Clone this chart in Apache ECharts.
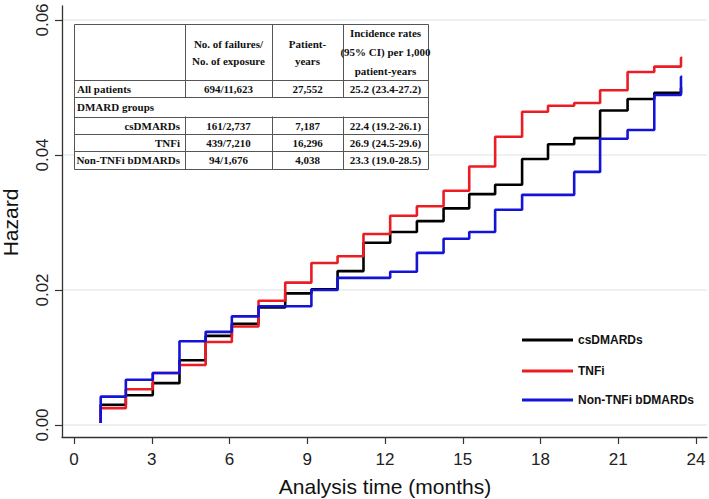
<!DOCTYPE html>
<html><head><meta charset="utf-8">
<script src="https://cdn.jsdelivr.net/npm/echarts@6/dist/echarts.min.js"></script>
<style>html,body{margin:0;padding:0;background:#fff}#c{width:709px;height:499px}</style>
</head><body><div id="c"></div>
<script>
// ---- data ----
const months = [1.03, 2.0, 3.04, 4.07, 5.08, 6.09, 7.12, 8.15, 9.16, 10.17, 11.17, 12.2, 13.23, 14.26, 15.25, 16.25, 17.29, 18.29, 19.3, 20.3, 21.36, 22.39, 23.42];
const csDMARDs = [0.0030, 0.0044, 0.0062, 0.0096, 0.0132, 0.0150, 0.0174, 0.0195, 0.0201, 0.0228, 0.0270, 0.0286, 0.0302, 0.0321, 0.0342, 0.0356, 0.0394, 0.0416, 0.0425, 0.0466, 0.0483, 0.0492, 0.0499];
const tnfi = [0.0025, 0.0053, 0.0077, 0.0089, 0.0123, 0.0146, 0.0184, 0.0211, 0.0240, 0.0250, 0.0283, 0.0310, 0.0324, 0.0347, 0.0383, 0.0427, 0.0464, 0.0473, 0.0477, 0.0496, 0.0523, 0.0531, 0.0544];
const nonTnfi = [0.0042, 0.0067, 0.0077, 0.0124, 0.0138, 0.0161, 0.0176, 0.0176, 0.0200, 0.0218, 0.0218, 0.0227, 0.0255, 0.0276, 0.0286, 0.0319, 0.0341, 0.0341, 0.0375, 0.0424, 0.0437, 0.0489, 0.0516];
const startHazard = 0.0003;
const endMonth = 23.47;
const seriesNames = ['csDMARDs', 'TNFi', 'Non-TNFi bDMARDs'];
const seriesColors = ['#000000', '#ec1c24', '#1414d8'];
const xTicks = [0, 3, 6, 9, 12, 15, 18, 21, 24];
const yTicks = [0, 0.02, 0.04, 0.06];
const yTickLabels = ['0.00', '0.02', '0.04', '0.06'];
const tableHeader = ['', 'No. of failures/\nNo. of exposure', 'Patient-\nyears', 'Incidence rates\n(95% CI) per 1,000\npatient-years'];
const tableRows = [
  ['All patients', '694/11,623', '27,552', '25.2 (23.4-27.2)'],
  ['DMARD groups'],
  ['csDMARDs', '161/2,737', '7,187', '22.4 (19.2-26.1)'],
  ['TNFi', '439/7,210', '16,296', '26.9 (24.5-29.6)'],
  ['Non-TNFi bDMARDs', '94/1,676', '4,038', '23.3 (19.0-28.5)']
];

// ---- build ----
const sans = 'Liberation Sans, Arial, sans-serif';
const serif = 'Liberation Serif, Times New Roman, serif';
function toSteps(vals) {
  const d = [[months[0], startHazard]];
  months.forEach((m, i) => d.push([m, vals[i]]));
  d.push([endMonth, vals[vals.length - 1]]);
  return d;
}
const allVals = [csDMARDs, tnfi, nonTnfi];

// table graphic
const colX = [74, 185, 272, 343, 428];
const rowY = [24, 80, 97, 116.5, 133.5, 150.5, 169];
const els = [];
const lineStyle = { stroke: '#555', lineWidth: 1 };
const px = v => Math.round(v) + 0.5;
els.push({ type: 'rect', z: 50, shape: { x: px(colX[0]), y: px(rowY[0]), width: colX[4] - colX[0], height: Math.round(rowY[6]) - rowY[0] }, style: { fill: '#fff', stroke: '#555', lineWidth: 1 } });
for (let r = 1; r < rowY.length - 1; r++) {
  els.push({ type: 'line', z: 51, shape: { x1: colX[0], y1: px(rowY[r]), x2: colX[4], y2: px(rowY[r]) }, style: lineStyle });
}
for (let c = 1; c < colX.length - 1; c++) {
  els.push({ type: 'line', z: 51, shape: { x1: px(colX[c]), y1: rowY[0], x2: px(colX[c]), y2: rowY[2] }, style: lineStyle });
  els.push({ type: 'line', z: 51, shape: { x1: px(colX[c]), y1: rowY[3], x2: px(colX[c]), y2: rowY[6] }, style: lineStyle });
}
const tStyle = (txt, x, y, align, lh) => ({ type: 'text', z: 52, style: { text: txt, x: x, y: y, align: align, verticalAlign: 'middle', fontFamily: serif, fontWeight: 'bold', fontSize: 11, lineHeight: lh || 13, fill: '#111' } });
tableHeader.forEach((h, c) => {
  if (!h) return;
  const lines = h.split('\n').length;
  els.push(tStyle(h, (colX[c] + colX[c + 1]) / 2, (rowY[0] + rowY[1]) / 2, 'center', lines === 3 ? 19 : 17));
});
tableRows.forEach((row, r) => {
  const yc = (rowY[r + 1] + rowY[r + 2]) / 2 + 0.5;
  row.forEach((cell, c) => {
    if (c === 0) {
      if (r < 2) els.push(tStyle(cell, colX[0] + 3, yc, 'left'));
      else els.push(tStyle(cell, colX[1] - 5, yc, 'right'));
    } else {
      els.push(tStyle(cell, (colX[c] + colX[c + 1]) / 2, yc, 'center'));
    }
  });
});

const legendCenters = [339, 370, 399];
const legends = seriesNames.map((n, i) => ({
  data: [n], left: 517, top: legendCenters[i] - 10, orient: 'vertical', icon: 'rect',
  itemWidth: 51, itemHeight: 3, selectedMode: false,
  textStyle: { fontFamily: sans, fontWeight: 'bold', fontSize: 12, color: '#111' }
}));

const option = {
  animation: false,
  backgroundColor: '#fff',
  grid: [
    { left: 74, right: 13, top: 20, bottom: 74, outerBoundsMode: 'none', containLabel: false },
    { left: 62, right: 2, top: 20, bottom: 74, outerBoundsMode: 'none', containLabel: false },
    { left: 62, right: 2, top: 6, bottom: 62, outerBoundsMode: 'none', containLabel: false }
  ],
  xAxis: [
    { gridIndex: 0, type: 'value', min: xTicks[0], max: xTicks[xTicks.length - 1], interval: xTicks[1] - xTicks[0], offset: 12,
      axisLine: { show: false, onZero: false },
      axisTick: { show: true, length: 7, lineStyle: { color: '#333', width: 1.2 } },
      axisLabel: { margin: 14, fontSize: 17, color: '#222', fontFamily: sans },
      splitLine: { show: false },
      name: 'Analysis time (months)', nameLocation: 'middle', nameGap: 39,
      nameTextStyle: { fontSize: 21, color: '#111', fontFamily: sans } },
    { gridIndex: 1, type: 'value', min: 0, max: 1, show: false },
    { gridIndex: 2, type: 'value', min: 0, max: 1, axisLine: { show: true, onZero: false, lineStyle: { color: '#333', width: 1.3 } }, axisTick: { show: false }, axisLabel: { show: false }, splitLine: { show: false } }
  ],
  yAxis: [
    { gridIndex: 0, type: 'value', min: yTicks[0], max: yTicks[yTicks.length - 1], interval: yTicks[1] - yTicks[0], offset: 12,
      axisLine: { show: false, onZero: false },
      axisTick: { show: true, length: 7, lineStyle: { color: '#333', width: 1.2 } },
      axisLabel: { margin: 11, fontSize: 17, color: '#222', fontFamily: sans, rotate: 90,
        formatter: v => { let k = 0; yTicks.forEach((t, i) => { if (Math.abs(t - v) < 1e-9) k = i; }); return yTickLabels[k]; } },
      splitLine: { show: false },
      name: 'Hazard', nameLocation: 'middle', nameGap: 41, nameRotate: 90,
      nameTextStyle: { fontSize: 21, color: '#111', fontFamily: sans } },
    { gridIndex: 1, type: 'value', min: yTicks[0], max: yTicks[yTicks.length - 1], interval: yTicks[1] - yTicks[0],
      axisLine: { show: false }, axisTick: { show: false }, axisLabel: { show: false },
      splitLine: { show: true, lineStyle: { color: '#e6ecef', width: 1.5 } } },
    { gridIndex: 2, type: 'value', min: 0, max: 1, axisLine: { show: true, onZero: false, lineStyle: { color: '#333', width: 1.3 } }, axisTick: { show: false }, axisLabel: { show: false }, splitLine: { show: false } }
  ],
  legend: legends,
  graphic: { elements: els },
  series: seriesNames.map((n, i) => ({
    name: n, type: 'line', xAxisIndex: 0, yAxisIndex: 0, step: 'end',
    data: toSteps(allVals[i]), showSymbol: false, symbol: 'none', z: 3 + i,
    lineStyle: { width: 2.6, color: seriesColors[i] }, itemStyle: { color: seriesColors[i] }
  }))
};
const chart = echarts.init(document.getElementById('c'), null, { renderer: 'svg' });
chart.setOption(option);
</script></body></html>
